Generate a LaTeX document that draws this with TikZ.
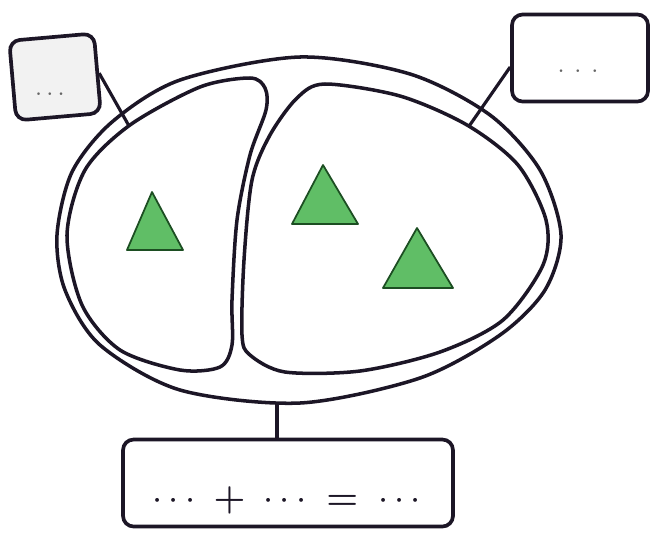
\documentclass[tikz,border=0pt]{standalone}
\usepackage{amsmath}
\usepackage{bm}
\usepackage{xcolor}
\usepackage{tikz}
\usetikzlibrary{positioning}

\definecolor{ink}{RGB}{28,22,38}
\definecolor{leafgreen}{RGB}{96,190,102}
\definecolor{leafedge}{RGB}{28,78,34}

\begin{document}
\begin{tikzpicture}[
    x=0.02cm, y=-0.02cm,
    outline/.style={draw=ink, line width=2pt, fill=white},
    box/.style={
      draw=ink, line width=2.1pt, rounded corners=6pt,
      inner sep=0pt, fill=white
    },
    dots/.style={text=black!60, font=\fontsize{15}{18}\selectfont},
    sumtext/.style={text=ink, font=\fontsize{22}{26}\selectfont},
    leaf/.style={draw=leafedge, line width=1pt, fill=leafgreen, line join=round},
    link/.style={draw=ink, line width=1.8pt}
  ]
  \useasboundingbox (0,0) rectangle (651,538);
  \draw[outline] plot[smooth cycle] coordinates {
      (57,235) (72,172) (112,122) (180,80) (300,57) (410,74) (490,115)
      (540,170) (561,235) (545,290) (500,335) (420,378) (300,403)
      (180,390) (100,345) (65,290)};
  \node[box, fill=black!5, minimum width=1.7cm, minimum height=1.6cm,
    rotate=5] (lbox) at (55,77) {};
  \node[box, minimum width=2.72cm, minimum height=1.74cm] (rbox) at (580,58) {};
  \node[box, minimum width=6.6cm, minimum height=1.74cm] (sumbox) at (288,483) {};
  \coordinate (lseed) at (133,133);
  \coordinate (rseed) at (465,132);
  \coordinate (eggbot) at (277,402);
  \draw[link] (lbox.east) -- (lseed);
  \draw[link] ([yshift=-1.8mm]rbox.west) -- (rseed);
  \draw[link] (eggbot) -- (eggbot |- sumbox.north);
  \draw[outline] plot[smooth cycle] coordinates {
      (67,235) (85,170) (130,125) (200,87) (250,78) (265,88) (266,110)
      (250,155) (237,220) (232,300) (232,345) (220,367) (180,370)
      (120,350) (82,305)};
  \draw[outline] plot[smooth cycle] coordinates {
      (242,335) (244,260) (252,180) (270,135) (297,98) (325,84)
      (400,96) (467,125) (518,165) (546,220) (543,265) (503,320)
      (440,352) (360,371) (285,372) (250,355)};
  \draw[leaf] (152,192) -- (183,250) -- (127,250) -- cycle;
  \draw[leaf] (323,165) -- (358,224) -- (292,224) -- cycle;
  \draw[leaf] (417,228) -- (453,288) -- (383,288) -- cycle;
  \node[dots] (ldots) at (52,95) {$\cdots$};
  \node[dots] (rdots) at (578,72) {$\cdot\,\cdot\,\cdot$};
  \node[sumtext] (sum) at (290,500) {$\cdots\;\bm{+}\;\cdots\;\bm{=}\;\cdots$};
\end{tikzpicture}
\end{document}
